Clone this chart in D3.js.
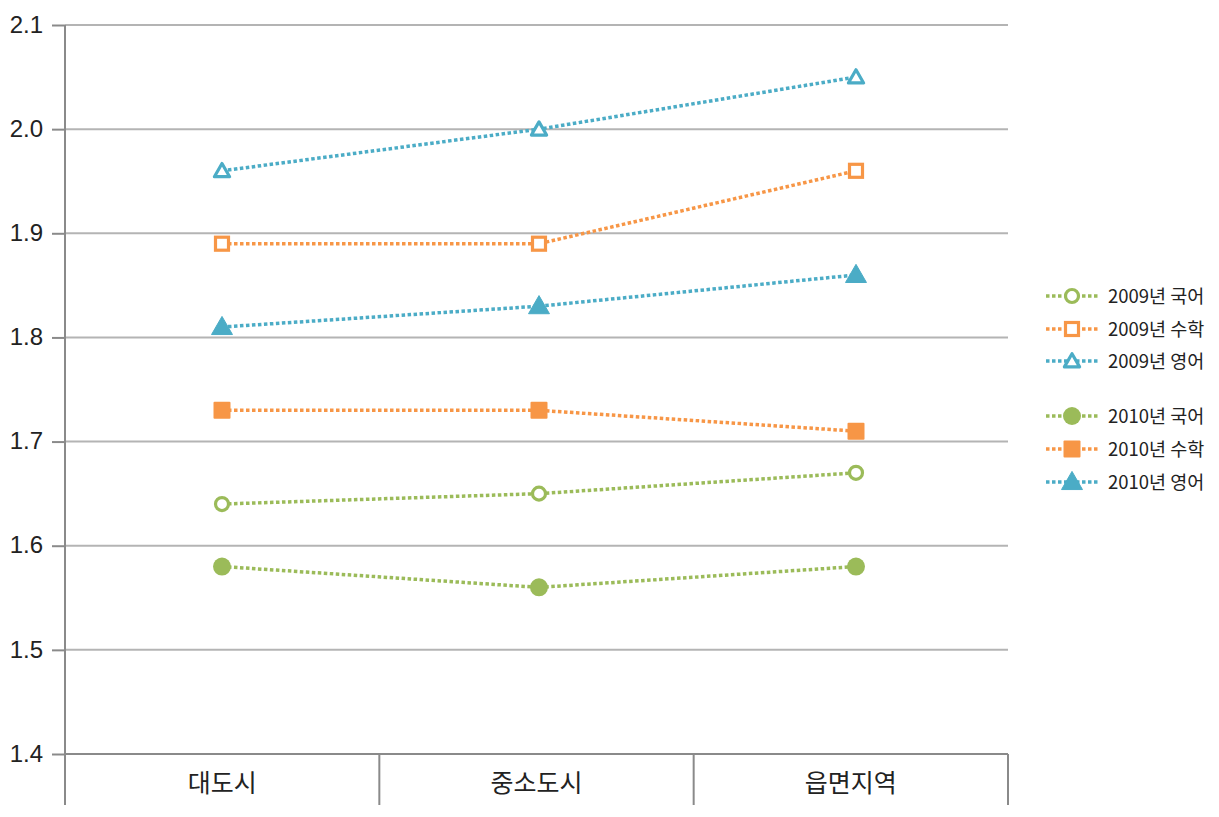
<!DOCTYPE html>
<html><head><meta charset="utf-8">
<script src="https://cdn.jsdelivr.net/npm/d3@7"></script>
<style>body{margin:0;background:#fff}svg{display:block}text{font-family:"Noto Sans CJK KR","Noto Sans",sans-serif;fill:#222}</style>
</head><body><svg id="c" width="1219" height="817"></svg>
<script>
const categories = ["대도시","중소도시","읍면지역"];
const seriesNames = ["2009년 국어","2009년 수학","2009년 영어","2010년 국어","2010년 수학","2010년 영어"];
const v2009Kor = [1.64,1.65,1.67];
const v2009Math = [1.89,1.89,1.96];
const v2009Eng = [1.96,2.00,2.05];
const v2010Kor = [1.58,1.56,1.58];
const v2010Math = [1.73,1.73,1.71];
const v2010Eng = [1.81,1.83,1.86];
const yTicks = [1.4,1.5,1.6,1.7,1.8,1.9,2.0,2.1];

const colors = {kor:"#9bbb59", math:"#f79646", eng:"#4bacc6"};
const series = [
 {name:seriesNames[0], values:v2009Kor, color:colors.kor, shape:"circle", filled:false},
 {name:seriesNames[1], values:v2009Math, color:colors.math, shape:"square", filled:false},
 {name:seriesNames[2], values:v2009Eng, color:colors.eng, shape:"triangle", filled:false},
 {name:seriesNames[3], values:v2010Kor, color:colors.kor, shape:"circle", filled:true},
 {name:seriesNames[4], values:v2010Math, color:colors.math, shape:"square", filled:true},
 {name:seriesNames[5], values:v2010Eng, color:colors.eng, shape:"triangle", filled:true}
];

const svg = d3.select("#c");
const L=65, R=1008, T=25, B=754;
const y = d3.scaleLinear().domain([1.4,2.1]).range([B,T]);
const x = d3.scaleBand().domain(categories).range([L,R]);
const xp = d3.scalePoint().domain(categories).range([222,856]);

// gridlines
svg.append("g").selectAll("line").data(yTicks.slice(1)).join("line")
 .attr("x1",L).attr("x2",R).attr("y1",d=>y(d)).attr("y2",d=>y(d))
 .attr("stroke","#b4b4b4").attr("stroke-width",2);

// y axis
const yAxis = d3.axisLeft(y).tickValues(yTicks).tickFormat(d3.format(".1f")).tickSize(13).tickPadding(9);
const gy = svg.append("g").attr("transform",`translate(${L},0)`).call(yAxis);
gy.select(".domain").remove();
gy.selectAll(".tick line").attr("stroke","#8a8a8a").attr("stroke-width",2);
gy.selectAll(".tick text").style("font-family","'Liberation Sans',Arial,sans-serif").attr("font-size",24).attr("fill","#222").attr("dy","0.3em");
svg.append("line").attr("x1",L).attr("x2",L).attr("y1",T).attr("y2",805).attr("stroke","#8a8a8a").attr("stroke-width",2);

// x axis baseline
svg.append("line").attr("x1",L).attr("x2",R).attr("y1",B).attr("y2",B).attr("stroke","#8a8a8a").attr("stroke-width",2);
const seps = categories.map(c=>x(c)+x.bandwidth());
svg.append("g").selectAll("line").data(seps).join("line")
 .attr("x1",d=>d).attr("x2",d=>d).attr("y1",B).attr("y2",805)
 .attr("stroke","#8a8a8a").attr("stroke-width",2);
svg.append("g").selectAll("text").data(categories).join("text")
 .attr("x",d=>x(d)+x.bandwidth()/2).attr("y",792).attr("text-anchor","middle")
 .attr("font-size",25).text(d=>d);

function drawMarker(g, s, cx, cy){
  if(s.shape==="circle"){
    if(s.filled) g.append("circle").attr("cx",cx).attr("cy",cy).attr("r",9).attr("fill",s.color);
    else g.append("circle").attr("cx",cx).attr("cy",cy).attr("r",6.5).attr("fill","#fff").attr("stroke",s.color).attr("stroke-width",3.2);
  } else if(s.shape==="square"){
    if(s.filled) g.append("rect").attr("x",cx-8.5).attr("y",cy-8.5).attr("width",17).attr("height",17).attr("rx",1).attr("fill",s.color);
    else g.append("rect").attr("x",cx-6.5).attr("y",cy-6.5).attr("width",13).attr("height",13).attr("fill","#fff").attr("stroke",s.color).attr("stroke-width",3.2);
  } else {
    const sym = d3.symbol().type(d3.symbolTriangle).size(s.filled?190:100);
    g.append("path").attr("d",sym()).attr("transform",`translate(${cx},${cy+1.5})`)
     .attr("fill",s.filled?s.color:"#fff").attr("stroke",s.color).attr("stroke-width",s.filled?1:3.2).attr("stroke-linejoin","round");
  }
}

const line = d3.line().x((d,i)=>xp(categories[i])).y(d=>y(d));
series.forEach(s=>{
  const g = svg.append("g");
  g.append("path").attr("d",line(s.values)).attr("fill","none").attr("stroke",s.color)
   .attr("stroke-width",3.5).attr("stroke-dasharray","3.5,2.5");
  s.values.forEach((v,i)=>drawMarker(g,s,xp(categories[i]),y(v)));
});

// legend
const legendY = [296,329,361,416,449,482];
series.forEach((s,i)=>{
  const g = svg.append("g");
  const ly = legendY[i];
  g.append("line").attr("x1",1046).attr("x2",1098).attr("y1",ly).attr("y2",ly)
   .attr("stroke",s.color).attr("stroke-width",3.5).attr("stroke-dasharray","3.5,2.5");
  drawMarker(g,s,1072,ly);
  g.append("text").attr("x",1108).attr("y",ly).attr("dy","0.36em").attr("font-size",18.5).text(s.name);
});
</script></body></html>
